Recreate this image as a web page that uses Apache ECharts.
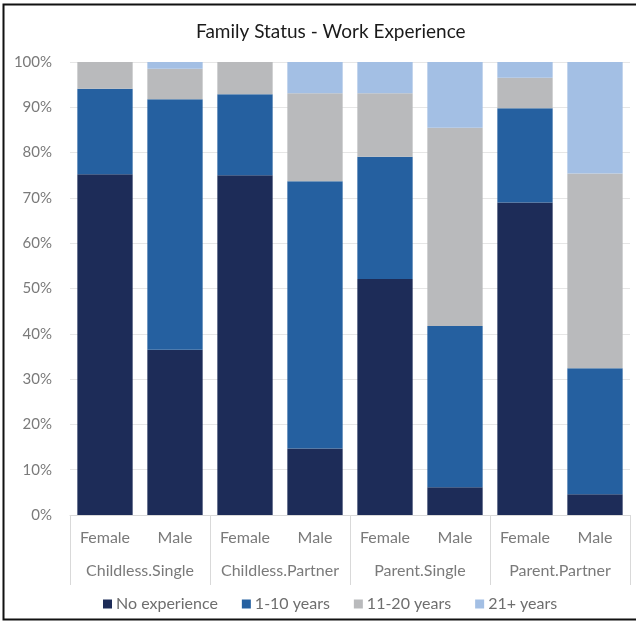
<!DOCTYPE html>
<html>
<head>
<meta charset="utf-8">
<title>Family Status - Work Experience</title>
<script src="https://cdn.jsdelivr.net/npm/echarts@6/dist/echarts.min.js"></script>
<style>
  html, body { margin: 0; padding: 0; background: #ffffff; }
  #chart { width: 636px; height: 624px; }
</style>
</head>
<body>
<div id="chart"></div>
<script>
// Inner categories (one bar each) and the family-status groups they belong to
const genders = ['Female', 'Male', 'Female', 'Male', 'Female', 'Male', 'Female', 'Male'];
const groups = ['Childless.Single', 'Childless.Partner', 'Parent.Single', 'Parent.Partner'];

// Share of each work-experience band, in percent
const noExperience = [75.2, 36.5, 75.0, 14.7, 52.1, 6.1, 69.0, 4.6];
const years1to10 = [18.9, 55.3, 17.9, 59.0, 27.0, 35.6, 20.8, 27.8];
const years11to20 = [5.9, 6.7, 7.1, 19.4, 14.0, 43.8, 6.7, 43.0];
const years21plus = [0, 1.5, 0, 6.9, 6.9, 14.5, 3.5, 24.6];

const seriesNames = ['No experience', '1-10 years', '11-20 years', '21+ years'];
const seriesColors = ['#1d2c58', '#2560a0', '#b9babc', '#a3bfe4'];
const yTicks = [0, 10, 20, 30, 40, 50, 60, 70, 80, 90, 100];

const FONT = 'Lato, "Open Sans", sans-serif';
const chart = echarts.init(document.getElementById('chart'), null, { renderer: 'canvas' });

const values = [noExperience, years1to10, years11to20, years21plus];

chart.setOption({
  backgroundColor: '#ffffff',
  animation: false,
  textStyle: { fontFamily: FONT },
  title: {
    text: 'Family Status - Work Experience',
    left: 191,
    top: 17,
    textStyle: { fontFamily: FONT, fontSize: 19, fontWeight: 'normal', color: '#1a1a1a' }
  },
  legend: {
    data: seriesNames,
    bottom: 7,
    left: 98,
    icon: 'rect',
    itemWidth: 9,
    itemHeight: 9,
    itemGap: 24,
    textStyle: { fontFamily: FONT, fontSize: 16, color: '#6e6e6e', padding: [0, 0, 0, -1] }
  },
  grid: { left: 70, right: 6, top: 62, bottom: 109, containLabel: false },
  xAxis: [
    {
      type: 'category',
      data: genders,
      axisLine: { show: true, lineStyle: { color: '#d9d9d9', width: 1 } },
      axisTick: { show: false },
      axisLabel: { fontFamily: FONT, fontSize: 16, color: '#7a7a7a', margin: 15, interval: 0 }
    },
    {
      type: 'category',
      data: groups,
      position: 'bottom',
      gridIndex: 0,
      axisLine: { show: false },
      axisTick: { show: true, length: 70, lineStyle: { color: '#d9d9d9', width: 1 } },
      axisLabel: { fontFamily: FONT, fontSize: 16, color: '#7a7a7a', margin: 48, interval: 0 }
    }
  ],
  yAxis: {
    type: 'value',
    min: yTicks[0],
    max: yTicks[yTicks.length - 1],
    interval: 10,
    axisLine: { show: false },
    axisTick: { show: false },
    splitLine: { lineStyle: { color: '#e6e6e6', width: 1 } },
    axisLabel: {
      fontFamily: FONT, fontSize: 15, color: '#7a7a7a', margin: 18,
      formatter: v => v + '%'
    }
  },
  series: seriesNames.map((name, i) => ({
    name: name,
    type: 'bar',
    stack: 'share',
    xAxisIndex: 0,
    barCategoryGap: '21%',
    itemStyle: { color: seriesColors[i] },
    emphasis: { disabled: true },
    data: values[i]
  })),
  graphic: [
    {
      type: 'rect',
      shape: { x: 3.5, y: 4.5, width: 660, height: 615 },
      style: { fill: 'none', stroke: '#111111', lineWidth: 2 },
      silent: true
    }
  ]
});
</script>
</body>
</html>
